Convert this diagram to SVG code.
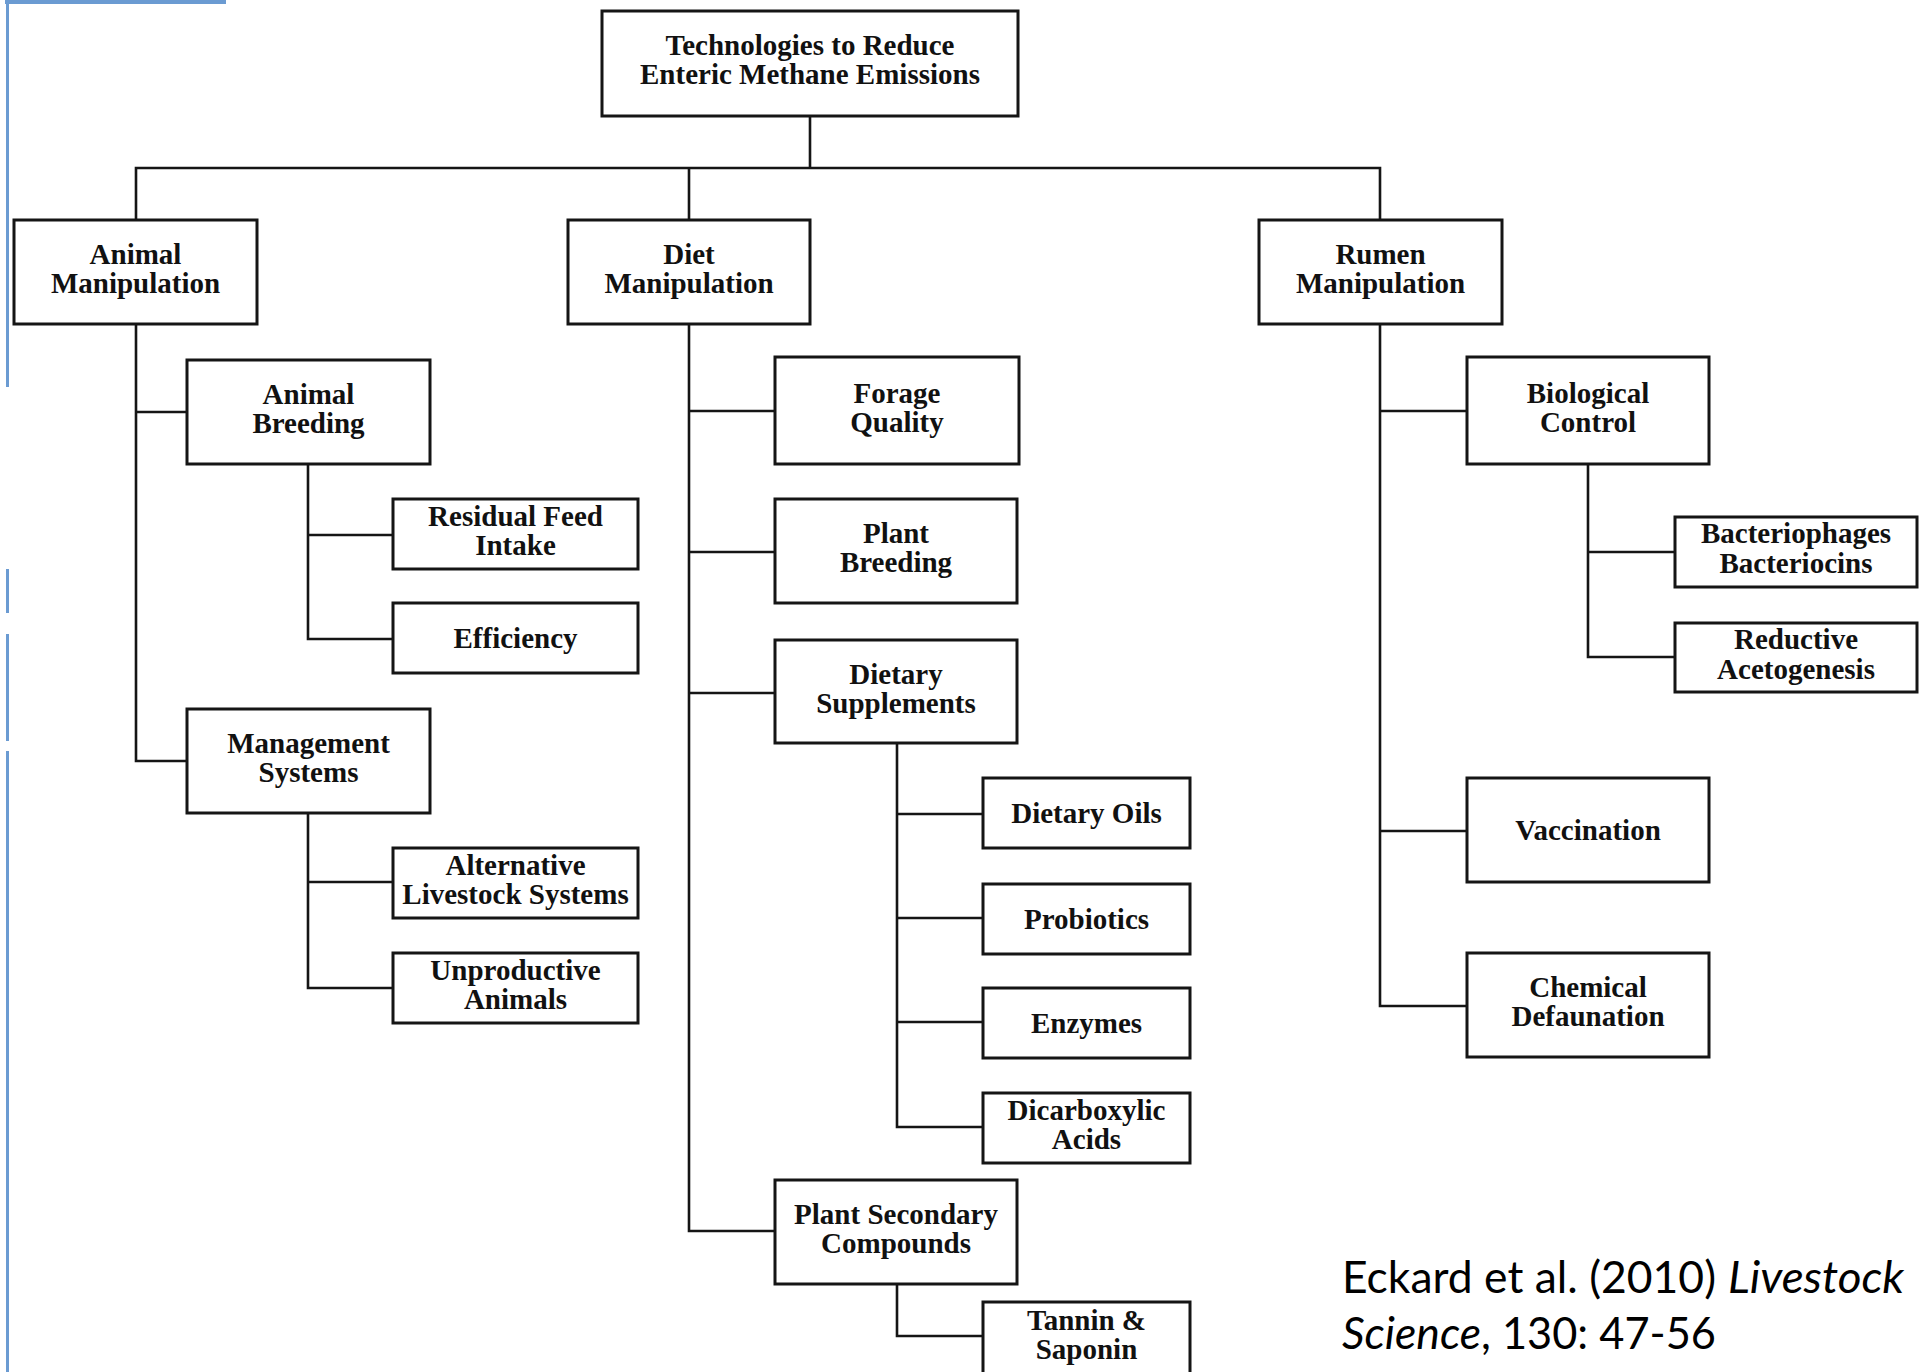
<svg xmlns="http://www.w3.org/2000/svg" width="1919" height="1372" viewBox="0 0 1919 1372">
<style>
.box{fill:#fff;stroke:#151515;stroke-width:3}
.lbl{font-family:"Liberation Serif","Times New Roman",serif;font-weight:bold;font-size:29px;fill:#111;text-anchor:middle}
.con{fill:none;stroke:#151515;stroke-width:2.6;stroke-linecap:square}
.blue{fill:#6b9bd2}
.cite{font-family:Lato,"Open Sans",sans-serif;font-size:45px;fill:#000}
</style>
<rect width="1919" height="1372" fill="#fff"/>
<g id="frame">
<rect class="blue" x="5" y="0" width="221" height="4"/>
<rect class="blue" x="6" y="0" width="3" height="387"/>
<rect class="blue" x="6" y="569" width="3" height="44"/>
<rect class="blue" x="6" y="634" width="3" height="107"/>
<rect class="blue" x="6" y="751" width="3" height="621"/>
</g>
<g id="connectors">
<path class="con" d="M810,116V168M136,168H1380M136,168V220M689,168V220M1380,168V220"/>
<path class="con" d="M136,324V761M136,412H187M136,761H187"/>
<path class="con" d="M308,464V639M308,535H393M308,639H393"/>
<path class="con" d="M308,813V988M308,882H393M308,988H393"/>
<path class="con" d="M689,324V1231M689,411H775M689,552H775M689,693H775M689,1231H775"/>
<path class="con" d="M897,743V1127M897,814H983M897,918H983M897,1022H983M897,1127H983"/>
<path class="con" d="M897,1284V1336H983"/>
<path class="con" d="M1380,325V1006M1380,411H1467M1380,831H1467M1380,1006H1467"/>
<path class="con" d="M1588,464V657M1588,552H1675M1588,657H1675"/>
</g>
<g id="top"><rect class="box" x="602" y="11" width="416" height="105"/><text class="lbl" x="810" y="55">Technologies to Reduce</text><text class="lbl" x="810" y="84">Enteric Methane Emissions</text></g>
<g id="animal"><rect class="box" x="14" y="220" width="243" height="104"/><text class="lbl" x="135.5" y="264">Animal</text><text class="lbl" x="135.5" y="293">Manipulation</text></g>
<g id="diet"><rect class="box" x="568" y="220" width="242" height="104"/><text class="lbl" x="689" y="264">Diet</text><text class="lbl" x="689" y="293">Manipulation</text></g>
<g id="rumen"><rect class="box" x="1259" y="220" width="243" height="104"/><text class="lbl" x="1380.5" y="264">Rumen</text><text class="lbl" x="1380.5" y="293">Manipulation</text></g>
<g id="breeding"><rect class="box" x="187" y="360" width="243" height="104"/><text class="lbl" x="308.5" y="404">Animal</text><text class="lbl" x="308.5" y="433">Breeding</text></g>
<g id="residual"><rect class="box" x="393" y="499" width="245" height="70"/><text class="lbl" x="515.5" y="526">Residual Feed</text><text class="lbl" x="515.5" y="555">Intake</text></g>
<g id="efficiency"><rect class="box" x="393" y="603" width="245" height="70"/><text class="lbl" x="515.5" y="648">Efficiency</text></g>
<g id="management"><rect class="box" x="187" y="709" width="243" height="104"/><text class="lbl" x="308.5" y="753">Management</text><text class="lbl" x="308.5" y="782">Systems</text></g>
<g id="altlivestock"><rect class="box" x="393" y="848" width="245" height="70"/><text class="lbl" x="515.5" y="875">Alternative</text><text class="lbl" x="515.5" y="904">Livestock Systems</text></g>
<g id="unproductive"><rect class="box" x="393" y="953" width="245" height="70"/><text class="lbl" x="515.5" y="980">Unproductive</text><text class="lbl" x="515.5" y="1009">Animals</text></g>
<g id="forage"><rect class="box" x="775" y="357" width="244" height="107"/><text class="lbl" x="897" y="403">Forage</text><text class="lbl" x="897" y="432">Quality</text></g>
<g id="plantbreeding"><rect class="box" x="775" y="499" width="242" height="104"/><text class="lbl" x="896" y="543">Plant</text><text class="lbl" x="896" y="572">Breeding</text></g>
<g id="dietsupp"><rect class="box" x="775" y="640" width="242" height="103"/><text class="lbl" x="896" y="684">Dietary</text><text class="lbl" x="896" y="713">Supplements</text></g>
<g id="oils"><rect class="box" x="983" y="778" width="207" height="70"/><text class="lbl" x="1086.5" y="823">Dietary Oils</text></g>
<g id="probiotics"><rect class="box" x="983" y="884" width="207" height="70"/><text class="lbl" x="1086.5" y="929">Probiotics</text></g>
<g id="enzymes"><rect class="box" x="983" y="988" width="207" height="70"/><text class="lbl" x="1086.5" y="1033">Enzymes</text></g>
<g id="dicarboxylic"><rect class="box" x="983" y="1093" width="207" height="70"/><text class="lbl" x="1086.5" y="1120">Dicarboxylic</text><text class="lbl" x="1086.5" y="1149">Acids</text></g>
<g id="psc"><rect class="box" x="775" y="1180" width="242" height="104"/><text class="lbl" x="896" y="1224">Plant Secondary</text><text class="lbl" x="896" y="1253">Compounds</text></g>
<g id="tannin"><rect class="box" x="983" y="1302" width="207" height="73"/><text class="lbl" x="1086.5" y="1330">Tannin &amp;</text><text class="lbl" x="1086.5" y="1359">Saponin</text></g>
<g id="biological"><rect class="box" x="1467" y="357" width="242" height="107"/><text class="lbl" x="1588" y="403">Biological</text><text class="lbl" x="1588" y="432">Control</text></g>
<g id="bacteriophages"><rect class="box" x="1675" y="517" width="242" height="70"/><text class="lbl" x="1796" y="543">Bacteriophages</text><text class="lbl" x="1796" y="573">Bacteriocins</text></g>
<g id="reductive"><rect class="box" x="1675" y="623" width="242" height="69"/><text class="lbl" x="1796" y="649">Reductive</text><text class="lbl" x="1796" y="679">Acetogenesis</text></g>
<g id="vaccination"><rect class="box" x="1467" y="778" width="242" height="104"/><text class="lbl" x="1588" y="840">Vaccination</text></g>
<g id="chemical"><rect class="box" x="1467" y="953" width="242" height="104"/><text class="lbl" x="1588" y="997">Chemical</text><text class="lbl" x="1588" y="1026">Defaunation</text></g>
<g id="citation">
<text class="cite" x="1342" y="1293" textLength="374" lengthAdjust="spacingAndGlyphs">Eckard et al. (2010)</text>
<text class="cite" x="1728" y="1293" font-style="italic" textLength="176" lengthAdjust="spacingAndGlyphs">Livestock</text>
<text class="cite" x="1342" y="1349" font-style="italic" textLength="139" lengthAdjust="spacingAndGlyphs">Science</text>
<text class="cite" x="1481" y="1349" textLength="235" lengthAdjust="spacingAndGlyphs">, 130: 47-56</text>
</g>
</svg>
